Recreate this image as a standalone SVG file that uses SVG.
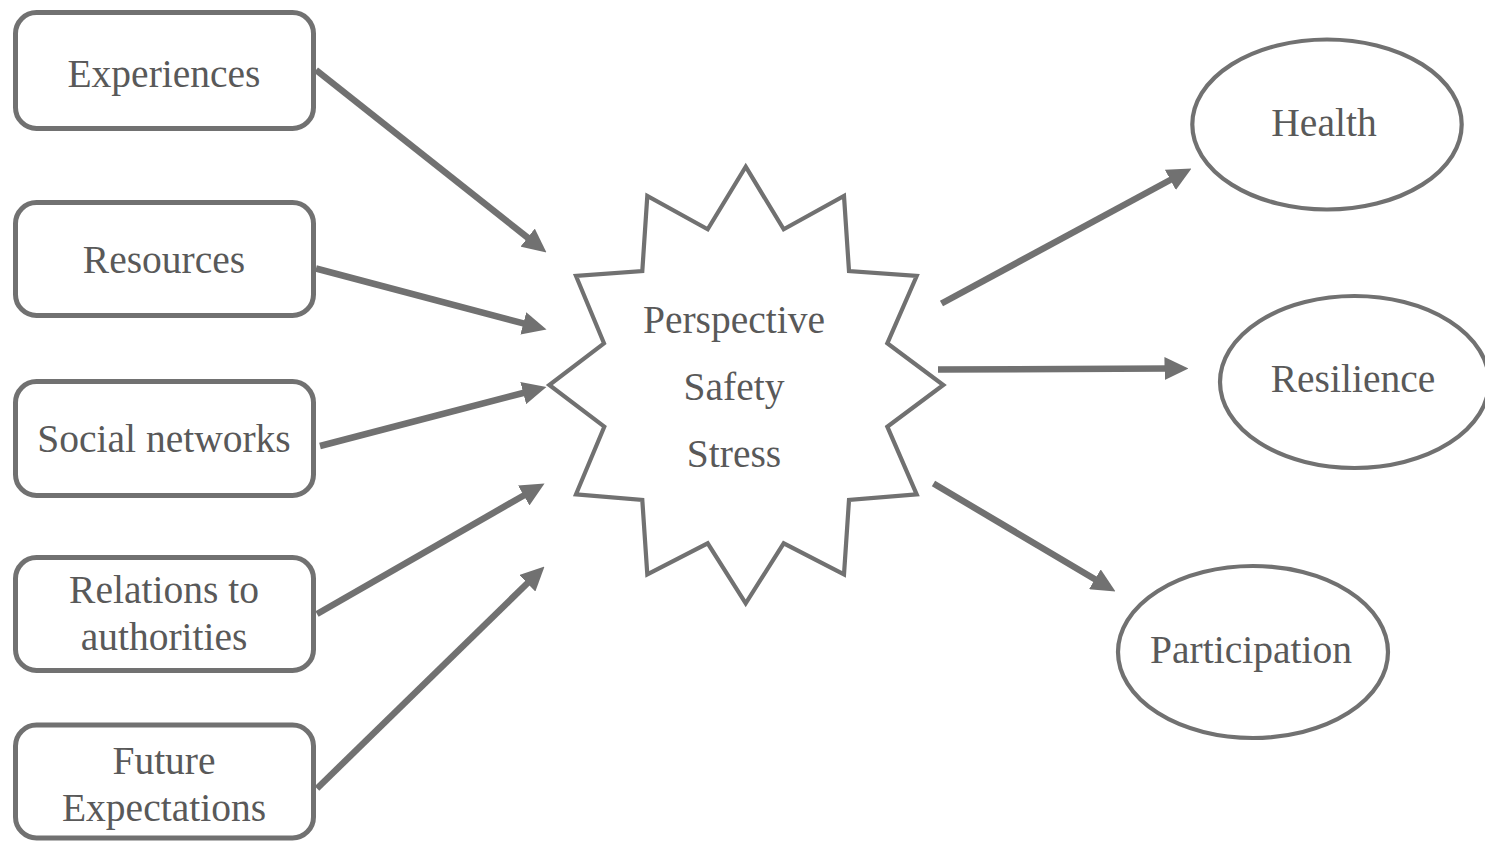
<svg xmlns="http://www.w3.org/2000/svg" width="1485" height="842" viewBox="0 0 1485 842">
<style>
.box{fill:#fff;stroke:#717171;stroke-width:5}
.shape{fill:#fff;stroke:#717171;stroke-width:4.2}
.lbl{font-family:"Liberation Serif","Times New Roman",serif;font-size:39.5px;fill:#595959;text-anchor:middle}
.conn{stroke:#717171;stroke-width:6.5;fill:none;marker-end:url(#ah)}
</style>
<defs>
<marker id="ah" markerUnits="userSpaceOnUse" markerWidth="24" markerHeight="23" refX="4" refY="11.5" orient="auto" viewBox="0 0 24 23">
<path d="M0,0 L24,11.5 L0,23 z" fill="#717171"/>
</marker>
</defs>
<rect width="1485" height="842" fill="#fff"/>
<g id="connectors">
<line class="conn" x1="316" y1="70" x2="530.8" y2="240.1"/>
<line class="conn" x1="316" y1="268.5" x2="527.2" y2="324.4"/>
<line class="conn" x1="320" y1="446" x2="527.1" y2="392"/>
<line class="conn" x1="317" y1="614" x2="527.2" y2="493.5"/>
<line class="conn" x1="317" y1="788.5" x2="530.2" y2="580.5"/>
<line class="conn" x1="941.5" y1="303.5" x2="1173.9" y2="178"/>
<line class="conn" x1="938" y1="369.5" x2="1168.5" y2="368.6"/>
<line class="conn" x1="933.5" y1="483.5" x2="1098.3" y2="581.3"/>
</g>
<g id="experiences">
<rect class="box" x="15.5" y="12.5" width="298" height="116" rx="21"/>
<text class="lbl" x="164" y="87">Experiences</text>
</g>
<g id="resources">
<rect class="box" x="15.5" y="202.5" width="298" height="113" rx="21"/>
<text class="lbl" x="164" y="273">Resources</text>
</g>
<g id="social-networks">
<rect class="box" x="15.5" y="381.5" width="298" height="114" rx="21"/>
<text class="lbl" x="164" y="452">Social networks</text>
</g>
<g id="relations">
<rect class="box" x="15.5" y="557.5" width="298" height="113" rx="21"/>
<text class="lbl" x="164" y="603">Relations to</text>
<text class="lbl" x="164" y="650">authorities</text>
</g>
<g id="future">
<rect class="box" x="15.5" y="725" width="298" height="113" rx="21"/>
<text class="lbl" x="164" y="774">Future</text>
<text class="lbl" x="164" y="821">Expectations</text>
</g>
<g id="center">
<polygon class="shape" points="745.7,166.7 783.7,229.3 844,196 849,271 916.7,276 887.3,343.3 943.3,385 887.3,426.7 916.7,494.3 849,500 844,574.3 783.7,543.3 745.7,603.3 707.7,543.3 647.3,574.3 642.3,500 576,494.3 604.3,426.7 549.3,385 604,343.3 576,276 642.3,271 647.3,196 707.7,229.3"/>
<text class="lbl" x="734" y="333">Perspective</text>
<text class="lbl" x="734" y="400">Safety</text>
<text class="lbl" x="734" y="467">Stress</text>
</g>
<g id="health">
<ellipse class="shape" cx="1327" cy="124.5" rx="134.7" ry="85"/>
<text class="lbl" x="1324" y="136">Health</text>
</g>
<g id="resilience">
<ellipse class="shape" cx="1354.5" cy="382" rx="134.5" ry="86"/>
<text class="lbl" x="1353" y="392">Resilience</text>
</g>
<g id="participation">
<ellipse class="shape" cx="1253" cy="652" rx="135" ry="86"/>
<text class="lbl" x="1251" y="663">Participation</text>
</g>
</svg>
